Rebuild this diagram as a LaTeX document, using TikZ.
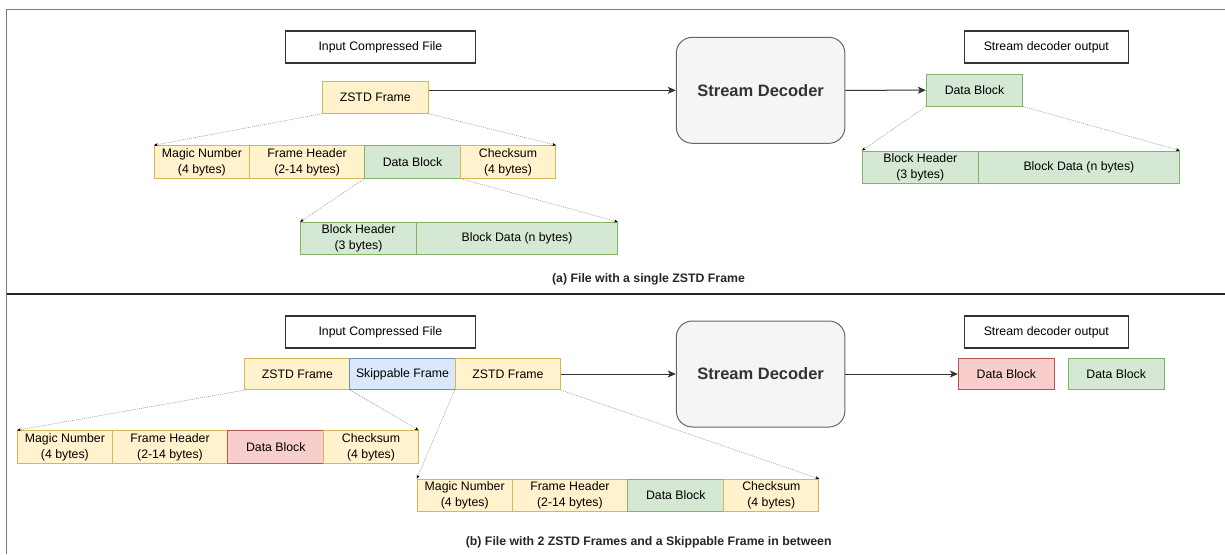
\documentclass[tikz,border=0pt]{standalone}
\usepackage{fontspec}
\setmainfont{Liberation Sans}
\usetikzlibrary{arrows.meta}
\definecolor{yfill}{HTML}{FFF2CC}
\definecolor{ystroke}{HTML}{D6B656}
\definecolor{gfill}{HTML}{D5E8D4}
\definecolor{gstroke}{HTML}{82B366}
\definecolor{rfill}{HTML}{F8CECC}
\definecolor{rstroke}{HTML}{B85450}
\definecolor{bfill}{HTML}{DAE8FC}
\definecolor{bstroke}{HTML}{6C8EBF}
\definecolor{decfill}{HTML}{F5F5F5}
\definecolor{decstroke}{HTML}{666666}
\definecolor{framegray}{HTML}{7A7A7A}
\tikzset{
  box/.style={draw, inner sep=0pt, align=center, line width=0.9pt,
    font=\fontsize{12.3}{16}\selectfont},
  wh/.style 2 args={minimum width=#1pt, minimum height=#2pt},
  ybox/.style={box, fill=yfill, draw=ystroke},
  gbox/.style={box, fill=gfill, draw=gstroke},
  rbox/.style={box, fill=rfill, draw=rstroke},
  bbox/.style={box, fill=bfill, draw=bstroke},
  titlebox/.style={box, draw=black!80, line width=1.2pt, fill=white},
  decoder/.style={draw=decstroke, fill=decfill, line width=1pt, rounded corners=16pt,
    inner sep=0pt, font=\fontsize{16.5}{20}\selectfont\bfseries, text=black!80},
  flow/.style={draw=black!80, line width=1pt, -{Stealth[length=8pt,width=7pt,inset=2pt]}},
  zoomline/.style={draw=black!45, line width=0.5pt, dash pattern=on 1pt off 1pt,
    -{Stealth[length=4pt,width=3pt,black]}},
  caption/.style={inner sep=0pt, font=\fontsize{12.3}{15}\selectfont\bfseries, text=black!85},
}
\begin{document}
\begin{tikzpicture}[x=1pt,y=-1pt]
\useasboundingbox (0,0) rectangle (1225,554);
% frame
\draw[framegray, line width=1.4pt] (6.5,554) -- (6.5,9.5) -- (1225,9.5);
\draw[black!85, line width=1.8pt] (6.5,294) -- (1225,294);

% ===== (a) =====
\node[titlebox, wh={190}{32}] (inA) at (380.4,46.9) {Input Compressed File};
\node[ybox, wh={106}{31.6}] (zA) at (375.3,97.5) {ZSTD Frame};
\node[ybox, wh={95.3}{32.6}] (a1m) at (201.9,162) {Magic Number\\(4 bytes)};
\node[ybox, wh={115.1}{32.6}] (a1f) at (307.1,162) {Frame Header\\(2-14 bytes)};
\node[gbox, wh={95.7}{32.6}] (a1d) at (412.5,162) {Data Block};
\node[ybox, wh={95.3}{32.6}] (a1c) at (508,162) {Checksum\\(4 bytes)};
\node[gbox, wh={116}{31.7}] (a2h) at (358.5,238.2) {Block Header\\(3 bytes)};
\node[gbox, wh={201}{31.7}] (a2d) at (517,238.2) {Block Data (n bytes)};
\node[decoder, minimum width=168.6pt, minimum height=106pt] (decA) at (760.6,90.3) {Stream Decoder};
\node[titlebox, wh={163.6}{32}] (outA) at (1046.3,46.9) {Stream decoder output};
\node[gbox, wh={96.5}{31.7}] (dbA) at (974.5,90.2) {Data Block};
\node[gbox, wh={116}{32}] (a3h) at (920.3,167) {Block Header\\(3 bytes)};
\node[gbox, wh={201}{32}] (a3d) at (1078.9,167) {Block Data (n bytes)};
\node[caption] (capA) at (648.5,279) {(a) File with a single ZSTD Frame};

\draw[flow] (zA.east |- decA.west) -- (decA.west);
\draw[flow] (decA.east) -- (dbA.west);
\draw[zoomline] (zA.south west) -- (a1m.north west);
\draw[zoomline] (zA.south east) -- (a1c.north east);
\draw[zoomline] (a1d.south west) -- (a2h.north west);
\draw[zoomline] (a1d.south east) -- (a2d.north east);
\draw[zoomline] (dbA.south west) -- (a3h.north west);
\draw[zoomline] (dbA.south east) -- (a3d.north east);

% ===== (b) =====
\node[titlebox, wh={190}{32}] (inB) at (380.4,331.9) {Input Compressed File};
\node[ybox, wh={105}{31.4}] (z1) at (297.4,374) {ZSTD Frame};
\node[bbox, wh={105.2}{31.4}] (sk) at (402.5,374) {Skippable Frame};
\node[ybox, wh={105.6}{31.4}] (z2) at (507.9,374) {ZSTD Frame};
\node[decoder, minimum width=168.6pt, minimum height=106pt] (decB) at (760.6,374) {Stream Decoder};
\node[titlebox, wh={163.6}{32}] (outB) at (1046.3,331.9) {Stream decoder output};
\node[rbox, wh={96}{31.4}] (dbR) at (1006.4,374) {Data Block};
\node[gbox, wh={96.5}{31.4}] (dbG) at (1116.2,374) {Data Block};

\node[ybox, wh={95}{32.3}] (b1m) at (64.9,446.9) {Magic Number\\(4 bytes)};
\node[ybox, wh={115.5}{32.3}] (b1f) at (170,446.9) {Frame Header\\(2-14 bytes)};
\node[rbox, wh={96}{32.3}] (b1d) at (275.8,446.9) {Data Block};
\node[ybox, wh={94.5}{32.3}] (b1c) at (371,446.9) {Checksum\\(4 bytes)};

\node[ybox, wh={95}{32}] (b2m) at (464.7,495.3) {Magic Number\\(4 bytes)};
\node[ybox, wh={115.6}{32}] (b2f) at (569.9,495.3) {Frame Header\\(2-14 bytes)};
\node[gbox, wh={96}{32}] (b2d) at (675.8,495.3) {Data Block};
\node[ybox, wh={95}{32}] (b2c) at (771.3,495.3) {Checksum\\(4 bytes)};
\node[caption] (capB) at (648.7,542.3) {(b) File with 2 ZSTD Frames and a Skippable Frame in between};

\draw[flow] (z2.east) -- (decB.west);
\draw[flow] (decB.east) -- (dbR.west);
\draw[zoomline] (z1.south west) -- (b1m.north west);
\draw[zoomline] (z1.south east) -- (b1c.north east);
\draw[zoomline] (z2.south west) -- (b2m.north west);
\draw[zoomline] (z2.south east) -- (b2c.north east);
\end{tikzpicture}
\end{document}
